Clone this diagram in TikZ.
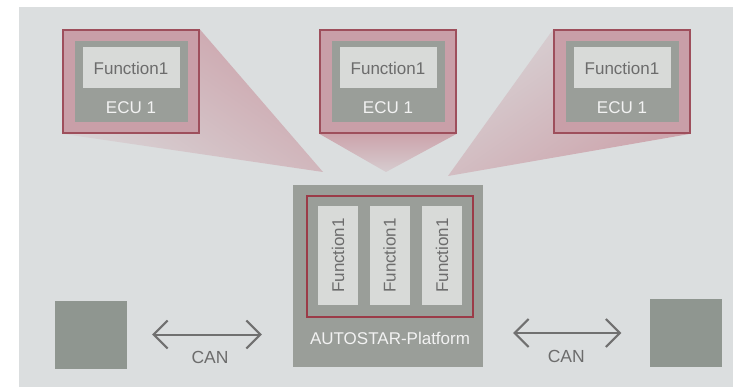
\documentclass[tikz,border=0pt]{standalone}
\usepackage{fontspec}
\setmainfont{Liberation Sans}
\usetikzlibrary{arrows.meta,backgrounds}

\definecolor{panel}{HTML}{DBDEDF}
\definecolor{ecupink}{HTML}{C99FA8}
\definecolor{ecured}{HTML}{9E4F5C}
\definecolor{conepink}{HTML}{CCA3AB}
\definecolor{boxgray}{HTML}{9A9E99}
\definecolor{funclight}{HTML}{D8DAD8}
\definecolor{platred}{HTML}{9B3B48}
\definecolor{darktext}{HTML}{6C6C6C}
\definecolor{lighttext}{HTML}{F2F2F2}
\definecolor{busgray}{HTML}{707070}
\definecolor{nodegray}{HTML}{8F9690}

\tikzset{
  ecuframe/.style={draw=ecured, line width=1.5pt, fill=ecupink,
    minimum width=136pt, minimum height=103pt, inner sep=0pt},
  ecucore/.style={fill=boxgray, minimum width=113pt, minimum height=81pt, inner sep=0pt},
  funcbox/.style={fill=funclight, minimum width=97pt, minimum height=41pt, inner sep=0pt,
    text=darktext, font=\fontsize{17}{17}\selectfont},
  vfuncbox/.style={fill=funclight, minimum width=40pt, minimum height=99pt, inner sep=0pt},
  vfunctext/.style={rotate=90, text=darktext, font=\fontsize{17}{17}\selectfont, inner sep=0pt},
  whitelabel/.style={text=lighttext, font=\fontsize{17}{17}\selectfont, inner sep=0pt},
  platbox/.style={fill=boxgray, minimum width=190pt, minimum height=182pt, inner sep=0pt},
  platframe/.style={draw=platred, line width=1.6pt, minimum width=166pt, minimum height=121pt, inner sep=0pt},
  busnode/.style={fill=nodegray, minimum width=72pt, minimum height=68pt, inner sep=0pt},
  canbus/.style={draw=busgray, line width=2pt,
    {Straight Barb[length=14pt,width=28pt,line width=2pt]}-{Straight Barb[length=14pt,width=28pt,line width=2pt]}},
  canlabel/.style={text=darktext, font=\fontsize{17.5}{17.5}\selectfont, inner sep=0pt},
}

\begin{document}
\begin{tikzpicture}[x=1pt,y=-1pt]
\useasboundingbox (0,0) rectangle (733,387);

% three ECUs along the top
\foreach \n/\cx in {L/131, M/388, R/622}{
  \node[ecuframe] (ecu\n) at (\cx,81.5) {};
  \node[ecucore] (core\n) at (\cx,82) {};
  \node[funcbox] (fn\n) at (\cx,68) {Function1};
  \node[whitelabel] (lbl\n) at (\cx,108) {ECU 1};
}

% integration platform
\node[platbox] (plat) at (388,276) {};
\node[platframe] (platfr) at (390,256.5) {};
\foreach \i/\fx in {1/338, 2/389.5, 3/442}{
  \node[vfuncbox] (pf\i) at (\fx,255.5) {};
  \node[vfunctext] at (pf\i.center) {Function1};
}
\node[whitelabel] (platlbl) at (390,338) {AUTOSTAR-Platform};

% neighbouring bus nodes
\node[busnode] (sqL) at (91,334.5) {};
\node[busnode] (sqR) at (685.5,333) {};

% CAN links
\draw[canbus, shorten <=25pt, shorten >=31pt] (sqL.east) -- (sqL.east -| plat.west)
  node[canlabel, midway, yshift=-23pt] {CAN};
\draw[canbus, shorten <=30pt, shorten >=28pt] (plat.east |- sqR.west) -- (sqR.west)
  node[canlabel, midway, yshift=-23pt] {CAN};

% panel and projection cones behind everything
\begin{scope}[on background layer]
  \fill[panel] (19,7) rectangle (733,387);
  \coordinate (tipL) at (323,172);
  \coordinate (tipM) at (386,172);
  \coordinate (tipR) at (448,176);
  \shade[left color=conepink, middle color=conepink!75!panel, right color=conepink!20!panel, shading angle=-35]
    (ecuL.north east) -- (tipL) -- (ecuL.south west) -- cycle;
  \shade[top color=conepink, bottom color=conepink!30!panel]
    (ecuM.south west) -- (tipM) -- (ecuM.south east) -- cycle;
  \shade[left color=conepink!20!panel, middle color=conepink!75!panel, right color=conepink, shading angle=35]
    (ecuR.north west) -- (tipR) -- (ecuR.south east) -- cycle;
\end{scope}
\end{tikzpicture}
\end{document}
